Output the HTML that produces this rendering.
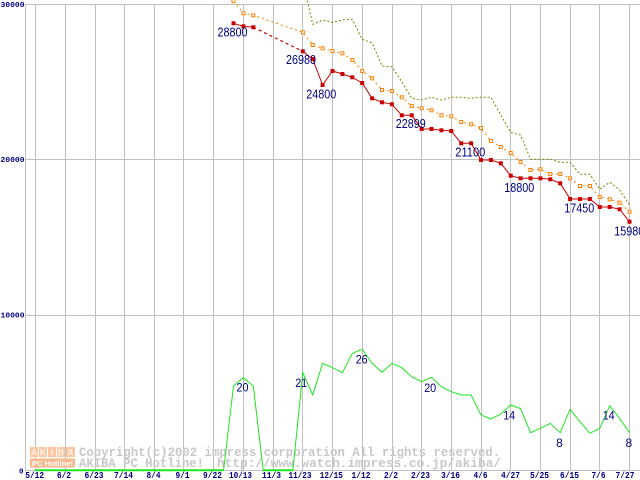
<!DOCTYPE html>
<html><head><meta charset="utf-8"><style>
html,body{margin:0;padding:0;background:#fff;}
svg{display:block;}
</style></head><body>
<svg width="640" height="480" viewBox="0 0 640 480" xmlns="http://www.w3.org/2000/svg">
<rect width="640" height="480" fill="#fff"/>
<g stroke="#c0c0c0" stroke-width="1" fill="none">
<line x1="25" y1="4.5" x2="640" y2="4.5"/>
<line x1="25" y1="159.5" x2="640" y2="159.5"/>
<line x1="25" y1="315.5" x2="640" y2="315.5"/>
<line x1="25" y1="470.5" x2="640" y2="470.5"/>
<line x1="25.5" y1="4" x2="25.5" y2="471"/>
<line x1="35.5" y1="4" x2="35.5" y2="471"/>
<line x1="65.5" y1="4" x2="65.5" y2="471"/>
<line x1="95.5" y1="4" x2="95.5" y2="471"/>
<line x1="124.5" y1="4" x2="124.5" y2="471"/>
<line x1="154.5" y1="4" x2="154.5" y2="471"/>
<line x1="183.5" y1="4" x2="183.5" y2="471"/>
<line x1="213.5" y1="4" x2="213.5" y2="471"/>
<line x1="243.5" y1="4" x2="243.5" y2="471"/>
<line x1="273.5" y1="4" x2="273.5" y2="471"/>
<line x1="302.5" y1="4" x2="302.5" y2="471"/>
<line x1="332.5" y1="4" x2="332.5" y2="471"/>
<line x1="362.5" y1="4" x2="362.5" y2="471"/>
<line x1="392.5" y1="4" x2="392.5" y2="471"/>
<line x1="421.5" y1="4" x2="421.5" y2="471"/>
<line x1="451.5" y1="4" x2="451.5" y2="471"/>
<line x1="481.5" y1="4" x2="481.5" y2="471"/>
<line x1="510.5" y1="4" x2="510.5" y2="471"/>
<line x1="540.5" y1="4" x2="540.5" y2="471"/>
<line x1="570.5" y1="4" x2="570.5" y2="471"/>
<line x1="599.5" y1="4" x2="599.5" y2="471"/>
<line x1="629.5" y1="4" x2="629.5" y2="471"/>
</g>

<!-- watermark -->
<g>
<rect x="30" y="447" width="8" height="10" fill="#fcc6a0"/>
<rect x="39" y="447" width="8" height="10" fill="#fcc6a0"/>
<rect x="48" y="447" width="8" height="10" fill="#fcc6a0"/>
<rect x="57" y="447" width="8" height="10" fill="#fcc6a0"/>
<rect x="66" y="447" width="9" height="10" fill="#fcc6a0"/>
<g font-family="Liberation Sans, sans-serif" font-weight="bold" font-size="9" fill="#fff0e6" text-anchor="middle">
<text x="34" y="455.5">A</text><text x="43" y="455.5">K</text><text x="52" y="455.5">I</text><text x="61" y="455.5">B</text><text x="70.5" y="455.5">A</text>
</g>
<rect x="30" y="458.5" width="45" height="9" fill="#f9b88c"/>
<text x="32" y="466" font-family="Liberation Sans, sans-serif" font-weight="bold" font-size="7.5" fill="#fff" textLength="41" lengthAdjust="spacingAndGlyphs">PC Hotline!</text>
<g font-family="Liberation Mono, monospace" font-weight="bold" font-size="12.5" fill="#c8c8c8">
<text x="79" y="456" textLength="421" lengthAdjust="spacingAndGlyphs">Copyright(c)2002 impress corporation All rights reserved.</text>
<text x="79" y="467" textLength="125" lengthAdjust="spacingAndGlyphs">AKIBA PC Hotline!</text>
<text x="217" y="467" textLength="284" lengthAdjust="spacingAndGlyphs">http://www.watch.impress.co.jp/akiba/</text>
</g>
</g>

<!-- olive max -->
<polyline fill="none" stroke="#808000" stroke-width="1" stroke-dasharray="2,2" points="302.8,-19 312.7,24.3 322.6,20 332.5,22.3 342.4,20 352.3,19.3 362.2,39.3 372.1,42.7 382,66 391.9,66.7 401.8,81.7 411.7,98.3 421.6,100 431.5,97.3 441.4,100 451.3,97.3 461.2,97.3 471.1,98.3 481,97.3 490.9,97.3 500.8,115 510.7,132.5 520.6,135 530.5,159.3 540.4,159.3 550.3,159.3 560.2,162.3 570.1,162.3 580,174.3 589.9,174.3 599.8,189.3 609.7,182.3 619.6,190 629.5,205"/>

<!-- orange avg -->
<polyline fill="none" stroke="#ff8000" stroke-width="1" stroke-dasharray="2,3" points="233.5,1 243.4,13.3 253.3,15.3 302.8,32.3 312.7,45 322.6,48.3 332.5,51 342.4,53.3 352.3,60 362.2,71 372.1,78.3 382,90 391.9,91 401.8,97.3 411.7,106 421.6,108.3 431.5,110.3 441.4,115.3 451.3,116.3 461.2,122 471.1,124.3 481,128 490.9,141 500.8,147 510.7,153 520.6,162 530.5,170 540.4,169.3 550.3,174 560.2,174 570.1,178.3 580,186 589.9,186 599.8,197 609.7,199.3 619.6,202.7 629.5,211.7"/>
<g fill="#fff" stroke="#ff8000" stroke-width="1">
<rect x="232" y="-0.5" width="3" height="3"/><rect x="241.9" y="11.8" width="3" height="3"/><rect x="251.8" y="13.8" width="3" height="3"/>
<rect x="301.3" y="30.8" width="3" height="3"/><rect x="311.2" y="43.5" width="3" height="3"/><rect x="321.1" y="46.8" width="3" height="3"/>
<rect x="331" y="49.5" width="3" height="3"/><rect x="340.9" y="51.8" width="3" height="3"/><rect x="350.8" y="58.5" width="3" height="3"/>
<rect x="360.7" y="69.5" width="3" height="3"/><rect x="370.6" y="76.8" width="3" height="3"/><rect x="380.5" y="88.5" width="3" height="3"/>
<rect x="390.4" y="89.5" width="3" height="3"/><rect x="400.3" y="95.8" width="3" height="3"/><rect x="410.2" y="104.5" width="3" height="3"/>
<rect x="420.1" y="106.8" width="3" height="3"/><rect x="430" y="108.8" width="3" height="3"/><rect x="439.9" y="113.8" width="3" height="3"/>
<rect x="449.8" y="114.8" width="3" height="3"/><rect x="459.7" y="120.5" width="3" height="3"/><rect x="469.6" y="122.8" width="3" height="3"/>
<rect x="479.5" y="126.5" width="3" height="3"/><rect x="489.4" y="139.5" width="3" height="3"/><rect x="499.3" y="145.5" width="3" height="3"/>
<rect x="509.2" y="151.5" width="3" height="3"/><rect x="519.1" y="160.5" width="3" height="3"/><rect x="529" y="168.5" width="3" height="3"/>
<rect x="538.9" y="167.8" width="3" height="3"/><rect x="548.8" y="172.5" width="3" height="3"/><rect x="558.7" y="172.5" width="3" height="3"/>
<rect x="568.6" y="176.8" width="3" height="3"/><rect x="578.5" y="184.5" width="3" height="3"/><rect x="588.4" y="184.5" width="3" height="3"/>
<rect x="598.3" y="195.5" width="3" height="3"/><rect x="608.2" y="197.8" width="3" height="3"/><rect x="618.1" y="201.2" width="3" height="3"/>
<rect x="628" y="210.2" width="3" height="3"/>
</g>

<!-- red min -->
<polyline fill="none" stroke="#c80000" stroke-width="1" points="233.5,23.3 243.4,26.3 253.3,27.3"/>
<polyline fill="none" stroke="#c80000" stroke-width="1.2" stroke-dasharray="3,3" points="253.3,27.3 302.8,51.3"/>
<polyline fill="none" stroke="#c80000" stroke-width="1" points="302.8,51.3 312.7,59 322.6,85 332.5,71 342.4,74 352.3,77.3 362.2,83 372.1,98.3 382,102.3 391.9,104.3 401.8,115.3 411.7,115.3 421.6,129 431.5,129 441.4,130.3 451.3,131 461.2,143.3 471.1,143.3 481,160 490.9,160 500.8,163.3 510.7,175.7 520.6,178.3 530.5,178.3 540.4,178.3 550.3,179.3 560.2,183.3 570.1,199 580,199 589.9,199 599.8,207 609.7,207 619.6,209.3 629.5,221.7"/>
<g fill="#c80000">
<rect x="231.5" y="21.3" width="4" height="4"/><rect x="241.4" y="24.3" width="4" height="4"/><rect x="251.3" y="25.3" width="4" height="4"/>
<rect x="300.8" y="49.3" width="4" height="4"/><rect x="310.7" y="57" width="4" height="4"/><rect x="320.6" y="83" width="4" height="4"/>
<rect x="330.5" y="69" width="4" height="4"/><rect x="340.4" y="72" width="4" height="4"/><rect x="350.3" y="75.3" width="4" height="4"/>
<rect x="360.2" y="81" width="4" height="4"/><rect x="370.1" y="96.3" width="4" height="4"/><rect x="380" y="100.3" width="4" height="4"/>
<rect x="389.9" y="102.3" width="4" height="4"/><rect x="399.8" y="113.3" width="4" height="4"/><rect x="409.7" y="113.3" width="4" height="4"/>
<rect x="419.6" y="127" width="4" height="4"/><rect x="429.5" y="127" width="4" height="4"/><rect x="439.4" y="128.3" width="4" height="4"/>
<rect x="449.3" y="129" width="4" height="4"/><rect x="459.2" y="141.3" width="4" height="4"/><rect x="469.1" y="141.3" width="4" height="4"/>
<rect x="479" y="158" width="4" height="4"/><rect x="488.9" y="158" width="4" height="4"/><rect x="498.8" y="161.3" width="4" height="4"/>
<rect x="508.7" y="173.7" width="4" height="4"/><rect x="518.6" y="176.3" width="4" height="4"/><rect x="528.5" y="176.3" width="4" height="4"/>
<rect x="538.4" y="176.3" width="4" height="4"/><rect x="548.3" y="177.3" width="4" height="4"/><rect x="558.2" y="181.3" width="4" height="4"/>
<rect x="568.1" y="197" width="4" height="4"/><rect x="578" y="197" width="4" height="4"/><rect x="587.9" y="197" width="4" height="4"/>
<rect x="597.8" y="205" width="4" height="4"/><rect x="607.7" y="205" width="4" height="4"/><rect x="617.6" y="207.3" width="4" height="4"/>
<rect x="627.5" y="219.7" width="4" height="4"/>
</g>

<!-- green count -->
<line x1="35" y1="470.3" x2="223.6" y2="470.3" stroke="#1ee61e" stroke-width="2"/>
<line x1="263.2" y1="470.3" x2="292.9" y2="470.3" stroke="#1ee61e" stroke-width="2"/>
<polyline fill="none" stroke="#1ee61e" stroke-width="1" points="223.6,470 233.5,386 243.4,377.7 253.3,386 263.2,470 292.9,470 302.8,372.7 312.7,395 322.6,363.3 332.5,367.7 342.4,372.7 352.3,353.3 362.2,349.3 372.1,363.3 382,372.3 391.9,363.3 401.8,367.7 411.7,376.7 421.6,381.7 431.5,377.3 441.4,386.7 451.3,391.7 461.2,395 471.1,395 481,415 490.9,419 500.8,414 510.7,405 520.6,408.7 530.5,432.7 540.4,428.3 550.3,423.3 560.2,432.7 570.1,409.3 580,421.7 589.9,433.3 599.8,428.3 609.7,405.7 619.6,418.3 629.5,432.7"/>

<!-- value labels -->
<g font-family="Liberation Sans, sans-serif" font-size="12.5" fill="#000080" text-anchor="middle">
<text x="232.5" y="36.7" textLength="30" lengthAdjust="spacingAndGlyphs">28800</text>
<text x="301" y="64" textLength="30" lengthAdjust="spacingAndGlyphs">26980</text>
<text x="321.3" y="98.3" textLength="30" lengthAdjust="spacingAndGlyphs">24800</text>
<text x="410.8" y="128" textLength="30" lengthAdjust="spacingAndGlyphs">22899</text>
<text x="470.3" y="156.7" textLength="30" lengthAdjust="spacingAndGlyphs">21100</text>
<text x="519.3" y="191.8" textLength="30" lengthAdjust="spacingAndGlyphs">18800</text>
<text x="579.3" y="212.5" textLength="30" lengthAdjust="spacingAndGlyphs">17450</text>
<text x="629.3" y="235.5" textLength="30" lengthAdjust="spacingAndGlyphs">15980</text>
</g>
<g font-family="Liberation Sans, sans-serif" font-size="12" fill="#000080" text-anchor="middle">
<text x="242.5" y="391.3" textLength="12" lengthAdjust="spacingAndGlyphs">20</text>
<text x="301.2" y="387" textLength="12" lengthAdjust="spacingAndGlyphs">21</text>
<text x="361.7" y="363.7" textLength="12" lengthAdjust="spacingAndGlyphs">26</text>
<text x="430.2" y="392" textLength="12" lengthAdjust="spacingAndGlyphs">20</text>
<text x="509.2" y="419.7" textLength="12" lengthAdjust="spacingAndGlyphs">14</text>
<text x="559.5" y="447">8</text>
<text x="608.7" y="419.7" textLength="12" lengthAdjust="spacingAndGlyphs">14</text>
<text x="628.8" y="447">8</text>
</g>

<!-- y axis labels -->
<g font-family="Liberation Mono, monospace" font-weight="bold" font-size="7.5" fill="#000080" text-anchor="end">
<text x="24.5" y="6.8" textLength="24" lengthAdjust="spacingAndGlyphs">30000</text>
<text x="24.5" y="162.2" textLength="24" lengthAdjust="spacingAndGlyphs">20000</text>
<text x="24.5" y="317.5" textLength="24" lengthAdjust="spacingAndGlyphs">10000</text>
<text x="23.5" y="473.3">0</text>
</g>

<!-- x axis labels -->
<g font-family="Liberation Mono, monospace" font-weight="bold" font-size="9" fill="#000080" text-anchor="middle">
<text x="34.7" y="478" textLength="19" lengthAdjust="spacingAndGlyphs">5/12</text>
<text x="64" y="478" textLength="14" lengthAdjust="spacingAndGlyphs">6/2</text>
<text x="94" y="478" textLength="19" lengthAdjust="spacingAndGlyphs">6/23</text>
<text x="123.5" y="478" textLength="19" lengthAdjust="spacingAndGlyphs">7/14</text>
<text x="153.5" y="478" textLength="14" lengthAdjust="spacingAndGlyphs">8/4</text>
<text x="182.5" y="478" textLength="14" lengthAdjust="spacingAndGlyphs">9/1</text>
<text x="212.5" y="478" textLength="19" lengthAdjust="spacingAndGlyphs">9/22</text>
<text x="240.5" y="478" textLength="23" lengthAdjust="spacingAndGlyphs">10/13</text>
<text x="271.5" y="478" textLength="19" lengthAdjust="spacingAndGlyphs">11/3</text>
<text x="300" y="478" textLength="23" lengthAdjust="spacingAndGlyphs">11/23</text>
<text x="331.3" y="478" textLength="23" lengthAdjust="spacingAndGlyphs">12/15</text>
<text x="361" y="478" textLength="19" lengthAdjust="spacingAndGlyphs">1/12</text>
<text x="391" y="478" textLength="14" lengthAdjust="spacingAndGlyphs">2/2</text>
<text x="420.5" y="478" textLength="19" lengthAdjust="spacingAndGlyphs">2/23</text>
<text x="450.5" y="478" textLength="19" lengthAdjust="spacingAndGlyphs">3/16</text>
<text x="480.5" y="478" textLength="14" lengthAdjust="spacingAndGlyphs">4/6</text>
<text x="510.5" y="478" textLength="19" lengthAdjust="spacingAndGlyphs">4/27</text>
<text x="539.5" y="478" textLength="19" lengthAdjust="spacingAndGlyphs">5/25</text>
<text x="569.5" y="478" textLength="19" lengthAdjust="spacingAndGlyphs">6/15</text>
<text x="598.5" y="478" textLength="14" lengthAdjust="spacingAndGlyphs">7/6</text>
<text x="625" y="478" textLength="19" lengthAdjust="spacingAndGlyphs">7/27</text>
</g>
</svg>
</body></html>
